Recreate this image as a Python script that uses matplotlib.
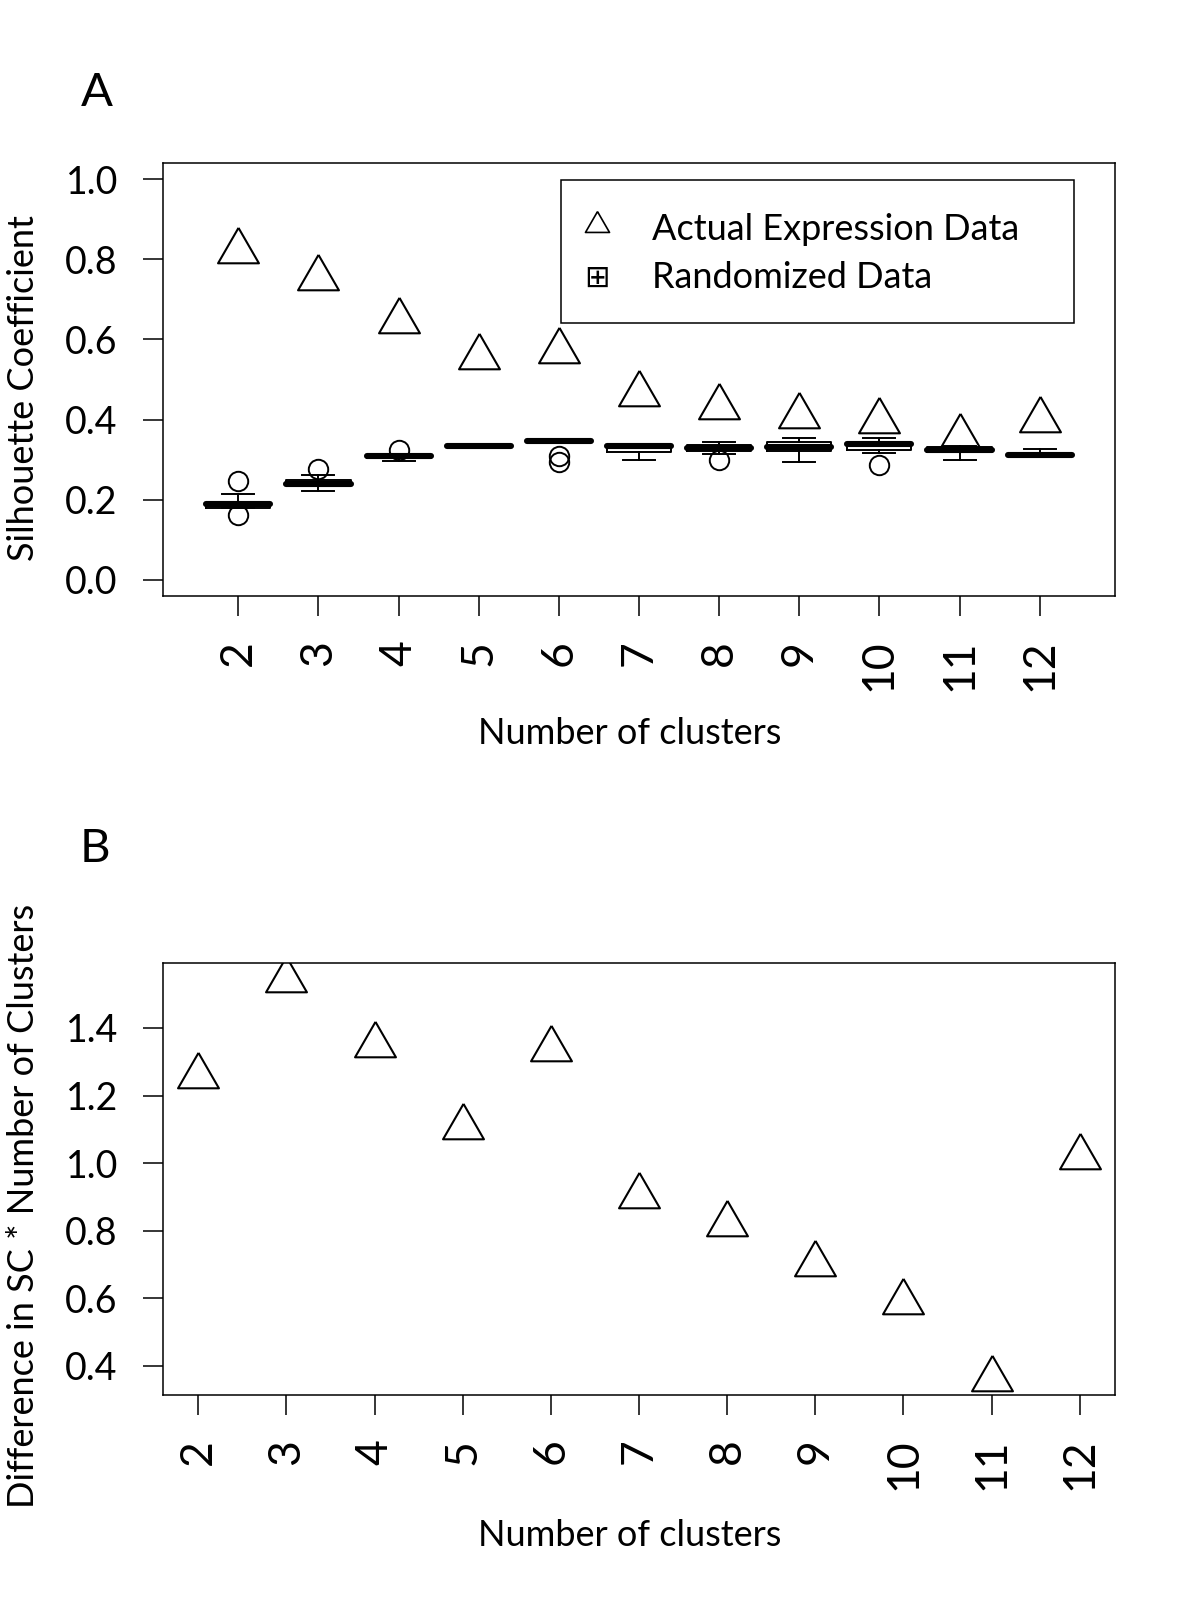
import matplotlib
matplotlib.use("Agg")
import matplotlib.pyplot as plt
from matplotlib.lines import Line2D
from matplotlib.patches import Rectangle
from matplotlib.ticker import FormatStrFormatter

plt.rcParams['font.family'] = ['Lato', 'DejaVu Sans']

# number of clusters
clusters = [2, 3, 4, 5, 6, 7, 8, 9, 10, 11, 12]

# panel A : silhouette coefficient of the real data
actual_sc = [0.821, 0.754, 0.647, 0.557, 0.571, 0.463, 0.431, 0.410, 0.397, 0.357, 0.398]

# panel A : randomized data, box plot summaries
rand_med = [0.190, 0.239, 0.308, 0.335, 0.347, 0.333, 0.328, 0.332, 0.338, 0.323, 0.312]
rand_q1 = [0.180, 0.236, 0.304, 0.335, 0.345, 0.318, 0.321, 0.321, 0.325, 0.320, 0.308]
rand_q3 = [0.192, 0.250, 0.310, 0.336, 0.348, 0.337, 0.336, 0.343, 0.342, 0.331, 0.315]
rand_lo = [0.179, 0.223, 0.297, 0.335, 0.344, 0.299, 0.313, 0.295, 0.317, 0.299, 0.306]
rand_hi = [0.214, 0.261, 0.311, 0.336, 0.349, 0.340, 0.343, 0.353, 0.353, 0.335, 0.3275]
rand_out = [[0.248, 0.1625], [0.277], [0.323], [], [0.310, 0.293], [], [0.300], [], [0.2875], [], []]

# panel B : difference in SC * number of clusters
diff_sc_k = [1.257, 1.543, 1.348, 1.107, 1.339, 0.904, 0.819, 0.703, 0.590, 0.361, 1.018]

# R style open triangle (pch = 2), centred on its centroid
tri = [(0.0, 0.5774), (-0.5, -0.2887), (0.5, -0.2887), (0.0, 0.5774)]

W, H = 1200, 1600
fig = plt.figure(figsize=(12, 16), dpi=100)

def fx(px):
    return px / W

def fy(py):
    return 1 - py / H

def style_axis(ax):
    for s in ax.spines.values():
        s.set_linewidth(1.1)
    ax.tick_params(length=14.5, width=1.1, pad=18)
    ax.tick_params(axis='y', labelsize=27)
    ax.tick_params(axis='x', labelrotation=90, labelsize=32, pad=17)
    ax.yaxis.set_major_formatter(FormatStrFormatter('%.1f'))

# ---------- panel A ----------
axA = fig.add_axes([fx(163), fy(596), fx(1115 - 163), (596 - 163) / H])
stats = []
for i in range(len(clusters)):
    stats.append(dict(med=rand_med[i], q1=rand_q1[i], q3=rand_q3[i],
                      whislo=rand_lo[i], whishi=rand_hi[i], fliers=rand_out[i]))
axA.bxp(stats, positions=clusters, widths=0.8, capwidths=0.4,
        boxprops=dict(color='black', linewidth=1.4),
        whiskerprops=dict(color='black', linewidth=1.4),
        capprops=dict(color='black', linewidth=1.4),
        medianprops=dict(color='black', linewidth=4.4, solid_capstyle='round'),
        flierprops=dict(marker='o', markersize=14, markerfacecolor='none',
                        markeredgecolor='black', markeredgewidth=1.4),
        manage_ticks=False)
axA.plot(clusters, actual_sc, linestyle='none', marker=tri, markersize=34,
         markerfacecolor='none', markeredgecolor='black', markeredgewidth=1.5)
axA.set_xlim(1.06, 12.94)
axA.set_ylim(-0.04, 1.04)
axA.set_xticks(clusters)
axA.set_xticklabels([str(c) for c in clusters])
axA.set_yticks([0.0, 0.2, 0.4, 0.6, 0.8, 1.0])
style_axis(axA)

# legend box drawn like R's legend()
fig.add_artist(Rectangle((fx(561), fy(323)), fx(1074 - 561), (323 - 180) / H,
                         transform=fig.transFigure, fill=False,
                         edgecolor='black', linewidth=1.1))
fig.add_artist(Line2D([fx(597)], [fy(225)], transform=fig.transFigure,
                      marker=tri, markersize=20, markerfacecolor='none',
                      markeredgecolor='black', markeredgewidth=1.2))
fig.text(fx(597), fy(278), "\u229e", family='DejaVu Sans', fontsize=22,
         ha='center', va='center')
fig.text(fx(652), fy(230), "Actual Expression Data", fontsize=26, va='center', ha='left')
fig.text(fx(652), fy(277), "Randomized Data", fontsize=26, va='center', ha='left')

fig.text(fx(24), fy(388), "Silhouette Coefficient", rotation=90, fontsize=26,
         ha='center', va='center')
fig.text(fx(630), fy(733), "Number of clusters", fontsize=26, ha='center', va='center')
fig.text(fx(97), fy(93), "A", fontsize=34, ha='center', va='center')

# ---------- panel B ----------
axB = fig.add_axes([fx(163), fy(1395), fx(1115 - 163), (1395 - 963) / H])
axB.plot(clusters, diff_sc_k, linestyle='none', marker=tri, markersize=34,
         markerfacecolor='none', markeredgecolor='black', markeredgewidth=1.5)
axB.set_xlim(1.6, 12.4)
axB.set_ylim(0.314, 1.592)
axB.set_xticks(clusters)
axB.set_xticklabels([str(c) for c in clusters])
axB.set_yticks([0.4, 0.6, 0.8, 1.0, 1.2, 1.4])
style_axis(axB)

fig.text(fx(24), fy(1206), "Difference in SC * Number of Clusters", rotation=90,
         fontsize=26, ha='center', va='center')
fig.text(fx(630), fy(1535), "Number of clusters", fontsize=26, ha='center', va='center')
fig.text(fx(95), fy(849), "B", fontsize=34, ha='center', va='center')

fig.savefig("out.png", dpi=100)
